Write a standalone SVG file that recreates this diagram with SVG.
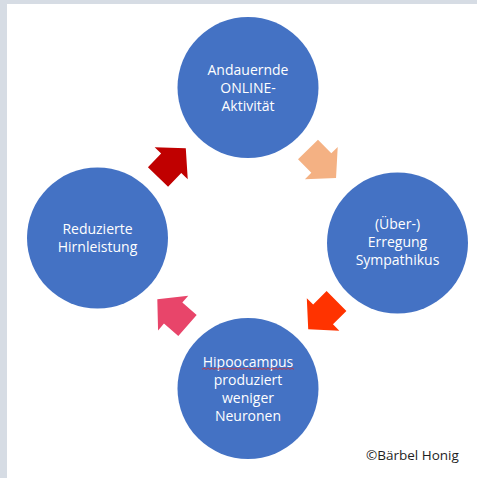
<svg xmlns="http://www.w3.org/2000/svg" width="477" height="478" viewBox="0 0 477 478">
<style>
.node{fill:#4472c4}
.lbl{font-family:"Open Sans","Noto Sans",sans-serif;font-size:14px;fill:#ffffff;text-anchor:middle}
.copy{font-family:"Open Sans","Noto Sans",sans-serif;font-size:13.5px;fill:#1e1e1e}
</style>
<defs>
<path id="arr" d="M0,-14 L19,-14 L19,-23 L40,0 L19,23 L19,14 L0,14 Z"/>
</defs>
<rect x="0" y="0" width="477" height="478" fill="#d6dce4"/>
<rect x="7" y="4" width="470" height="474" fill="#ffffff"/>
<g id="connectors">
<use href="#arr" fill="#c00000" transform="translate(158,177) rotate(-46)"/>
<use href="#arr" fill="#f4b183" transform="translate(308,149.5) rotate(45.5)"/>
<use href="#arr" fill="#ff3300" transform="translate(336.5,301) rotate(135)"/>
<use href="#arr" fill="#e8456a" transform="translate(187.5,325.5) rotate(221)"/>
</g>
<g id="node-online">
<circle class="node" cx="248" cy="87.5" r="70.5"/>
<text class="lbl" x="248" y="75">Andauernde</text>
<text class="lbl" x="248" y="93">ONLINE-</text>
<text class="lbl" x="248" y="111">Aktivität</text>
</g>
<g id="node-sympathikus">
<circle class="node" cx="397.5" cy="243" r="70.5"/>
<text class="lbl" x="397.5" y="229">(Über-)</text>
<text class="lbl" x="397.5" y="247">Erregung</text>
<text class="lbl" x="397.5" y="265">Sympathikus</text>
</g>
<g id="node-hipoocampus">
<circle class="node" cx="248" cy="388.5" r="70.5"/>
<text class="lbl" x="248" y="367">Hipoocampus</text>
<path d="M202,369.5 l2,-1.5 l2,1.5 l2,-1.5 l2,1.5 l2,-1.5 l2,1.5 l2,-1.5 l2,1.5 l2,-1.5 l2,1.5 l2,-1.5 l2,1.5 l2,-1.5 l2,1.5 l2,-1.5 l2,1.5 l2,-1.5 l2,1.5 l2,-1.5 l2,1.5 l2,-1.5 l2,1.5 l2,-1.5 l2,1.5 l2,-1.5 l2,1.5 l2,-1.5 l2,1.5 l2,-1.5 l2,1.5 l2,-1.5 l2,1.5 l2,-1.5 l2,1.5 l2,-1.5 l2,1.5 l2,-1.5 l2,1.5 l2,-1.5 l2,1.5 l2,-1.5 l2,1.5 l2,-1.5 l2,1.5 l2,-1.5 l2,1.5" fill="none" stroke="#d03030" stroke-width="0.8"/>
<text class="lbl" x="248" y="385">produziert</text>
<text class="lbl" x="248" y="403">weniger</text>
<text class="lbl" x="248" y="421">Neuronen</text>
</g>
<g id="node-hirnleistung">
<circle class="node" cx="97.5" cy="238" r="70.5"/>
<text class="lbl" x="97.5" y="234">Reduzierte</text>
<text class="lbl" x="97.5" y="252">Hirnleistung</text>
</g>
<text class="copy" x="366" y="460">©Bärbel Honig</text>
</svg>
